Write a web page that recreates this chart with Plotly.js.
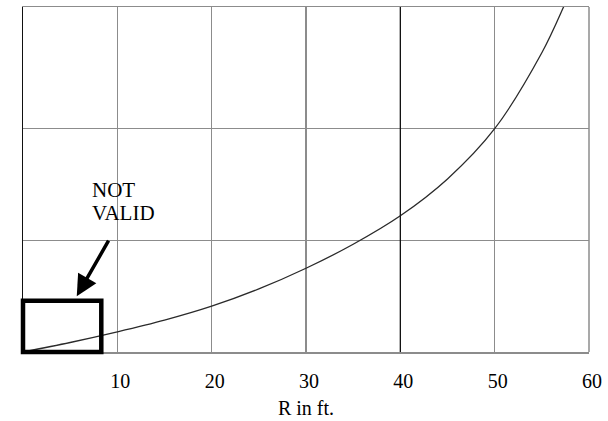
<!DOCTYPE html>
<html>
<head>
<meta charset="utf-8">
<script src="https://cdn.plot.ly/plotly-3.0.1.min.js"></script>
<style>html,body{margin:0;padding:0;background:#fff;}#chart{width:608px;height:421px;}</style>
</head>
<body>
<div id="chart"></div>
<script>
// Curve data (R in ft vs. relative value)
const rValues = [0, 5, 10, 15, 20, 25, 30, 35, 40, 45, 50, 55, 57.3, 58];
const yValues = [0, 0.085, 0.18, 0.285, 0.41, 0.565, 0.75, 0.965, 1.22, 1.55, 2.0, 2.68, 3.09, 3.23];
const xTickVals = [10, 20, 30, 40, 50, 60];
const xTickText = ['10', '20', '30', '40', '50', '60'];
const xRange = [0, 60];
const yRange = [0, 3.09];
const yGrid = [1, 2];
// "Not valid" region
const boxR = [0, 8.3];
const boxY = [0, 0.46];
const arrowTip = [5.7, 0.50];
const arrowTail = [9.16, 1.01];
const noteLines = ['NOT', 'VALID'];
const notePos = [[7.1, 1.45], [7.1, 1.245]];

const serif = 'Liberation Serif';
const px = v => (v - xRange[0]) / (xRange[1] - xRange[0]);
const py = v => (v - yRange[0]) / (yRange[1] - yRange[0]);

const trace = {
  x: rValues, y: yValues, type: 'scatter', mode: 'lines',
  line: {color: '#2a2a2a', width: 1.3, shape: 'spline', smoothing: 1},
  hoverinfo: 'skip', showlegend: false
};

const shapes = [
  {type: 'line', xref: 'paper', yref: 'paper', x0: 1, x1: 1, y0: 0, y1: 1, line: {color: '#8c8c8c', width: 1.5}},
  {type: 'line', xref: 'x', yref: 'paper', x0: 40, x1: 40, y0: 0, y1: 1, line: {color: '#111', width: 1.3}},
  {type: 'rect', xref: 'paper', yref: 'paper', x0: px(boxR[0]), x1: px(boxR[1]), y0: py(boxY[0]), y1: py(boxY[1]),
   line: {color: '#000', width: 4.5}, fillcolor: 'rgba(0,0,0,0)', layer: 'above'}
];

const annotations = noteLines.map((t, i) => ({
  text: t, x: notePos[i][0], y: notePos[i][1], xref: 'x', yref: 'y',
  xanchor: 'left', yanchor: 'middle', showarrow: false,
  font: {family: serif, size: 21, color: '#000'}
}));
annotations.push({
  x: arrowTip[0], y: arrowTip[1], ax: arrowTail[0], ay: arrowTail[1],
  xref: 'x', yref: 'y', axref: 'x', ayref: 'y', text: '',
  showarrow: true, arrowhead: 2, arrowsize: 1.2, arrowwidth: 3.5, arrowcolor: '#000'
});

const layout = {
  width: 608, height: 421,
  margin: {l: 23, r: 19, t: 7, b: 69},
  paper_bgcolor: '#fff', plot_bgcolor: '#fff',
  font: {family: serif},
  xaxis: {
    range: xRange, tickvals: xTickVals, ticktext: xTickText, ticks: '',
    showgrid: true, gridcolor: '#8c8c8c', gridwidth: 1.5,
    showline: true, linecolor: '#8c8c8c', linewidth: 1.5, mirror: true,
    zeroline: false, ticklabelshift: 3, ticklabelstandoff: 10,
    tickfont: {family: serif, size: 20, color: '#000'},
    title: {text: 'R in ft.', font: {family: serif, size: 20, color: '#000'}, standoff: 10},
    fixedrange: true
  },
  yaxis: {
    range: yRange, tickvals: yGrid, showticklabels: false, ticks: '',
    showgrid: true, gridcolor: '#8c8c8c', gridwidth: 1.5,
    showline: true, linecolor: '#111', linewidth: 1.5,
    zeroline: false, fixedrange: true
  },
  shapes: shapes,
  annotations: annotations
};

Plotly.newPlot('chart', [trace], layout, {displayModeBar: false, staticPlot: true});
</script>
</body>
</html>
